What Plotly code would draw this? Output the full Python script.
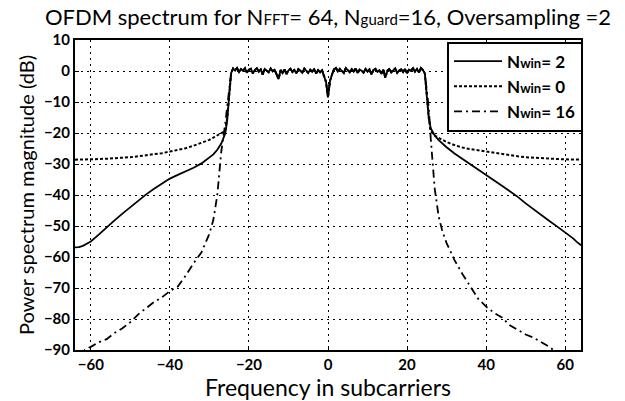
import numpy as np
import plotly.graph_objects as go

# ---------------- data ----------------
# frequency grid of the left / right skirts (subcarriers)
x_left = [-64, -63, -62, -61, -60, -58, -56, -54, -52, -50, -48, -46, -44, -42, -40,
          -38, -36, -34, -32, -30, -29, -28, -27, -26, -25.5, -25]
x_right = [25, 25.5, 26, 27, 28, 29, 30, 32, 34, 36, 38, 40, 42, 44, 46, 48, 50,
           52, 54, 56, 58, 60, 61, 62, 63, 64]

# in-band region (shared by all three window lengths)
x_band = [round(-24.5 + 0.5 * i, 1) for i in range(99)]
band_db = [-0.6, 0.8, 0.2, 1.0, -0.3, 0.6, 0.1, 0.9, -0.5, 0.4,
           0.7, -0.8, 0.3, 0.9, -0.2, 0.5, -1.2, 0.6, 0.2, -0.4,
           0.8, -0.1, 0.4, -0.9, -2.6, 0.3, -0.6, 0.5, -1.0, 0.2,
           0.7, -0.3, 0.4, -0.7, 0.6, 0.1, -0.5, 0.8, 0.0, -0.6,
           0.4, -0.2, 0.5, -0.8, 0.3, -0.4, 0.2, -1.5, -3.5, -8.5,
           -3.2, -1.2, 0.5, 1.0, -0.2, 0.7, 0.2, -0.6, 0.9, 0.3,
           -0.4, 0.6, -0.1, 0.8, -0.7, 0.4, 0.1, -0.5, 0.6, -0.2,
           0.5, -1.1, 0.3, 0.7, -0.3, 0.2, -0.9, 0.4, -2.2, 0.1,
           0.6, -0.4, 0.3, 0.8, -0.6, 0.2, 0.5, -0.3, 0.7, -0.8,
           0.4, 0.1, 0.9, -0.2, 0.6, -0.5, 1.0, 0.3, -0.8]

# N_win = 2 (solid)
win2_left = [-56.9, -56.8, -56.4, -55.8, -55.0, -52.8, -50.4, -48.2, -46.0, -43.9,
             -41.8, -39.8, -38.0, -36.3, -34.7, -33.5, -32.4, -31.2, -29.8, -28.0,
             -26.9, -25.4, -23.4, -20.2, -16.0, -8.0]
win2_right = [-8.0, -15.5, -18.5, -20.8, -22.3, -23.5, -24.6, -26.6, -28.3, -30.0,
              -31.8, -33.6, -35.3, -37.0, -38.8, -40.6, -42.7, -44.7, -46.6, -48.4,
              -50.2, -52.0, -53.0, -54.0, -55.2, -56.2]

# N_win = 0 (dotted)
win0_left = [-28.6, -28.6, -28.6, -28.5, -28.5, -28.4, -28.3, -28.2, -28.0, -27.8,
             -27.5, -27.2, -26.9, -26.5, -26.0, -25.5, -24.9, -24.1, -23.2, -22.2,
             -21.5, -20.8, -20.0, -19.3, -15.0, -8.0]
win0_right = [-8.0, -15.0, -19.5, -20.8, -21.6, -22.3, -22.9, -23.9, -24.7, -25.2,
              -25.6, -26.0, -26.5, -26.9, -27.2, -27.5, -27.8, -28.0, -28.2, -28.3,
              -28.4, -28.5, -28.5, -28.5, -28.6, -28.6]

# N_win = 16 (dash-dot)
win16_left = [-93.0, -92.0, -90.5, -89.5, -89.0, -87.5, -86.5, -84.5, -83.0, -81.0,
              -78.5, -76.5, -74.5, -73.0, -71.0, -69.5, -66.0, -62.0, -58.5, -52.5,
              -48.0, -40.0, -26.0, -17.0, -12.0, -6.0]
win16_right = [-6.0, -12.0, -22.0, -38.0, -47.0, -52.0, -55.5, -61.0, -65.5, -69.5,
               -73.5, -76.0, -78.0, -79.5, -82.0, -83.5, -85.0, -86.0, -87.5, -89.0,
               -91.0, -93.0, -94.0, -95.0, -96.0, -97.0]

x_ticks = [-60, -40, -20, 0, 20, 40, 60]
y_ticks = [10, 0, -10, -20, -30, -40, -50, -60, -70, -80, -90]

SUB = "<span style='font-size:13px'>win</span>"
series = [
    ("N" + SUB + "= 2", win2_left, win2_right, "solid", 1.8),
    ("N" + SUB + "= 0", win0_left, win0_right, "3px,2px", 2.0),
    ("N" + SUB + "= 16", win16_left, win16_right, "8px,4px,2px,4px", 1.8),
]

x_all = x_left + x_band + x_right

fig = go.Figure()
for i, (name, left, right, dash, w) in enumerate(series):
    fig.add_trace(go.Scatter(
        x=x_all, y=left + band_db + right, mode="lines", name=name,
        line=dict(color="black", width=w, dash=dash),
        legendrank=i + 1,
    ))
# solid line drawn last (on top); legend order kept through legendrank
fig.data = tuple(reversed(fig.data))

tick_font = dict(family="Lato", size=15, color="black", weight="bold")
fig.update_layout(
    width=625, height=401,
    margin=dict(l=75, r=44, t=40, b=40),
    paper_bgcolor="white", plot_bgcolor="white",
    title=dict(
        text="OFDM spectrum for N<span style='font-size:15px'>FFT</span>= 64, "
             "N<span style='font-size:15px'>guard</span>=16, Oversampling =2",
        x=0.5, xref="paper", xanchor="center",
        y=1 - 17 / 401, yref="container", yanchor="middle",
        font=dict(family="Lato", size=22, color="black"),
    ),
    showlegend=True,
    legend=dict(
        x=1.004, y=0.995, xanchor="right", yanchor="top",
        bordercolor="black", borderwidth=2, bgcolor="white",
        font=dict(family="Lato", size=17, color="black", weight="bold"),
        tracegroupgap=0, itemwidth=48,
    ),
    xaxis=dict(
        range=[-64, 64], tickvals=x_ticks, ticks="inside", ticklen=4,
        tickcolor="black", showline=True, linecolor="black", linewidth=2,
        mirror=True, showgrid=True, gridcolor="black", griddash="2px,4px",
        gridwidth=1.3, zeroline=False, tickfont=tick_font,
        title=dict(text="Frequency in subcarriers", standoff=0,
                   font=dict(family="Lato", size=23, color="black")),
    ),
    yaxis=dict(
        range=[-90, 10], tickvals=y_ticks, ticks="inside", ticklen=4,
        tickcolor="black", showline=True, linecolor="black", linewidth=2,
        mirror=True, showgrid=True, gridcolor="black", griddash="2px,4px",
        gridwidth=1.3, zeroline=False, tickfont=tick_font,
        title=dict(text="Power spectrum magnitude (dB)", standoff=4,
                   font=dict(family="Lato", size=20, color="black")),
    ),
)

fig.write_html("out.html")
